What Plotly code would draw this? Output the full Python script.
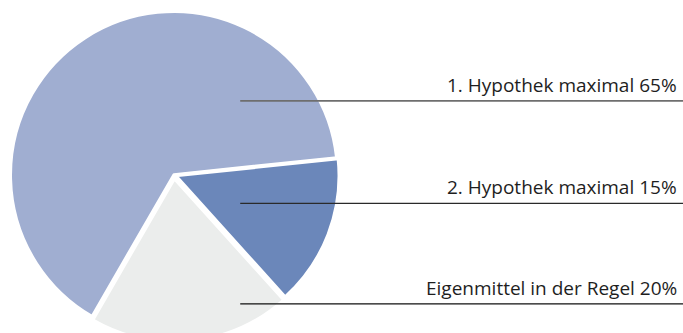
import plotly.graph_objects as go

# Financing structure
categories = ["1. Hypothek maximal", "2. Hypothek maximal", "Eigenmittel in der Regel"]
shares = [65, 15, 20]
colors = ["#a0aed1", "#6b87ba", "#ebedec"]

# leader line heights (paper coordinates) and label placement
line_y = [0.722, 0.415, 0.114]
line_x0 = 0.345
line_colors = ["#6e6e6e", "#2a2a2a", "#111111"]
line_widths = [1.6, 1.2, 1.2]

fig = go.Figure(
    go.Pie(
        labels=categories,
        values=shares,
        sort=False,
        direction="clockwise",
        rotation=210,
        pull=[0, 0.01, 0.02],
        marker=dict(colors=colors, line=dict(color="white", width=3.5)),
        textinfo="none",
        hoverinfo="skip",
        showlegend=False,
        domain=dict(x=[0, 334 / 676], y=[0, 1]),
    )
)

for cat, val, y, lc, lw in zip(categories, shares, line_y, line_colors, line_widths):
    fig.add_shape(
        type="line", xref="paper", yref="paper",
        x0=line_x0, x1=1.0, y0=y, y1=y,
        line=dict(color=lc, width=lw),
    )
    fig.add_annotation(
        xref="paper", yref="paper", x=1.0, y=y,
        xanchor="right", yanchor="bottom", xshift=-4, yshift=1,
        text=f"{cat} {val}%", showarrow=False,
        font=dict(family="Open Sans, Liberation Sans, sans-serif", size=19, color="#1e1e1e"),
    )

fig.update_layout(
    width=683, height=350,
    margin=dict(l=7, r=0, t=8, b=8),
    paper_bgcolor="white", plot_bgcolor="white",
)

fig.write_html("out.html", post_script="document.body.style.overflow='hidden';")
